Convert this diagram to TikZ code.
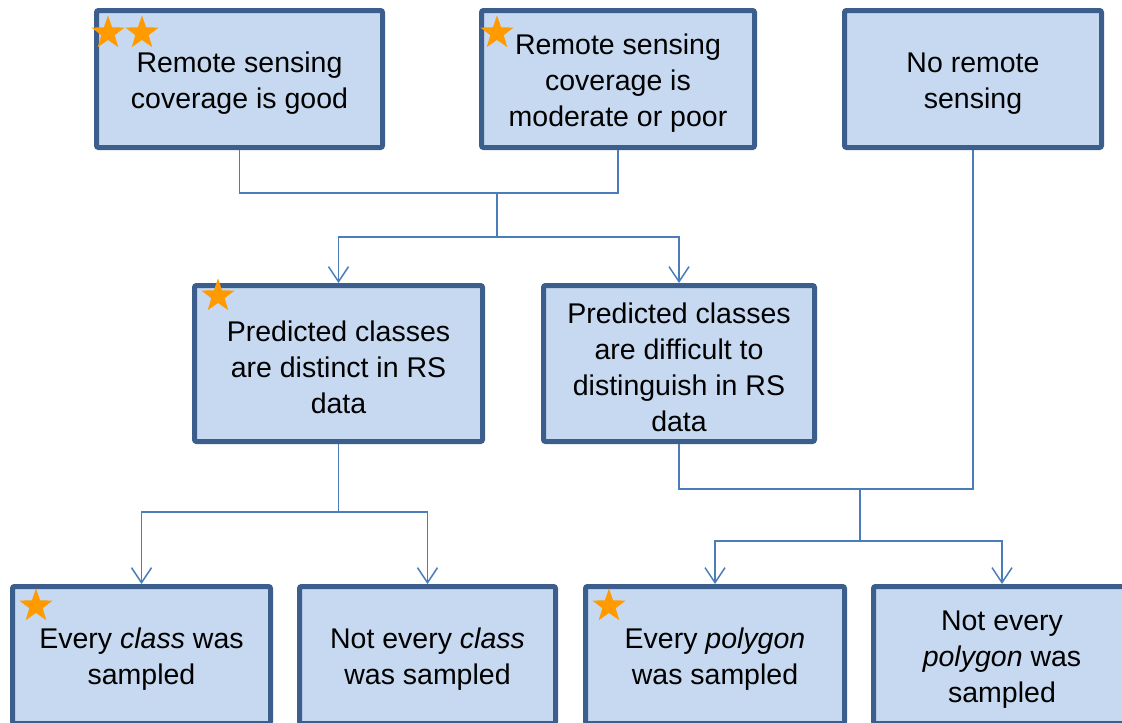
\documentclass[tikz,border=0pt]{standalone}
\usepackage{fontspec}
\setmainfont{Liberation Sans}
\usetikzlibrary{arrows.meta,shapes.geometric}
\definecolor{boxborder}{HTML}{3B5E8C}
\definecolor{boxfill}{HTML}{C6D9F0}
\definecolor{connblue}{HTML}{4A7EBB}
\definecolor{starorange}{HTML}{FF9A00}
\newcommand\topstrut{\rule{0pt}{29pt}}
\tikzset{
  flowbox/.style={draw=boxborder, line width=5pt, fill=boxfill, rounded corners=2pt,
    align=center, inner sep=2pt, minimum height=137pt,
    font=\fontsize{28.5}{36}\selectfont},
  conn/.style={draw=connblue, line width=1.5pt},
  arr/.style={conn, -{Straight Barb[length=15pt,width=20pt,line width=1.5pt]}},
  orangestar/.style={star, star points=5, star point ratio=2.5, fill=starorange,
    draw=none, inner sep=0pt, minimum size=35pt}
}
\begin{document}
\begin{tikzpicture}[x=1pt,y=-1pt]
\useasboundingbox (0,0) rectangle (1122,723);
% top row
\node[flowbox, minimum width=286pt] (A) at (239.5,79) {\topstrut Remote sensing\\coverage is good};
\node[flowbox, minimum width=273pt] (B) at (618,79) {\topstrut Remote sensing\\coverage is\\moderate or poor};
\node[flowbox, minimum width=257pt] (C) at (973,79) {\topstrut No remote\\sensing};
% middle row
\node[flowbox, minimum width=288pt, minimum height=156pt] (D) at (338.5,363.5) {\topstrut Predicted classes\\are distinct in RS\\data};
\node[flowbox, minimum width=271pt, minimum height=156pt] (E) at (679,363.5) {\topstrut Predicted classes\\are difficult to\\distinguish in RS\\data};
% bottom row
\node[flowbox, minimum width=258pt] (F) at (141.5,655) {\topstrut Every \textit{class} was\\sampled};
\node[flowbox, minimum width=256pt] (G) at (427.5,655) {\topstrut Not every \textit{class}\\was sampled};
\node[flowbox, minimum width=259pt] (H) at (715,655) {\topstrut Every \textit{polygon}\\was sampled};
\node[flowbox, minimum width=257pt] (I) at (1002,655) {\topstrut Not every\\\textit{polygon} was\\sampled};
% stars
\node[orangestar] (s1) at (108,33) {};
\node[orangestar] (s2) at (142,33) {};
\node[orangestar] (s3) at (497,33) {};
\node[orangestar] (s4) at (218,296) {};
\node[orangestar] (s5) at (36,606) {};
\node[orangestar] (s6) at (609,606) {};
% connectors
\coordinate (j1) at (497,193);
\coordinate (j2) at (497,237);
\draw[conn] (A.south) |- (j1) -| (B.south);
\draw[conn] (j1) -- (j2);
\draw[arr] (j2) -| (D.north);
\draw[arr] (j2) -| (E.north);
\coordinate (j3) at (338.5,512);
\draw[conn] (D.south) -- (j3);
\draw[arr] (j3) -| (F.north);
\draw[arr] (j3) -| (G.north);
\coordinate (j4) at (860,489);
\coordinate (j5) at (860,541);
\draw[conn] (E.south) |- (j4) -| (C.south);
\draw[conn] (j4) -- (j5);
\draw[arr] (j5) -| (H.north);
\draw[arr] (j5) -| (I.north);
\end{tikzpicture}
\end{document}
